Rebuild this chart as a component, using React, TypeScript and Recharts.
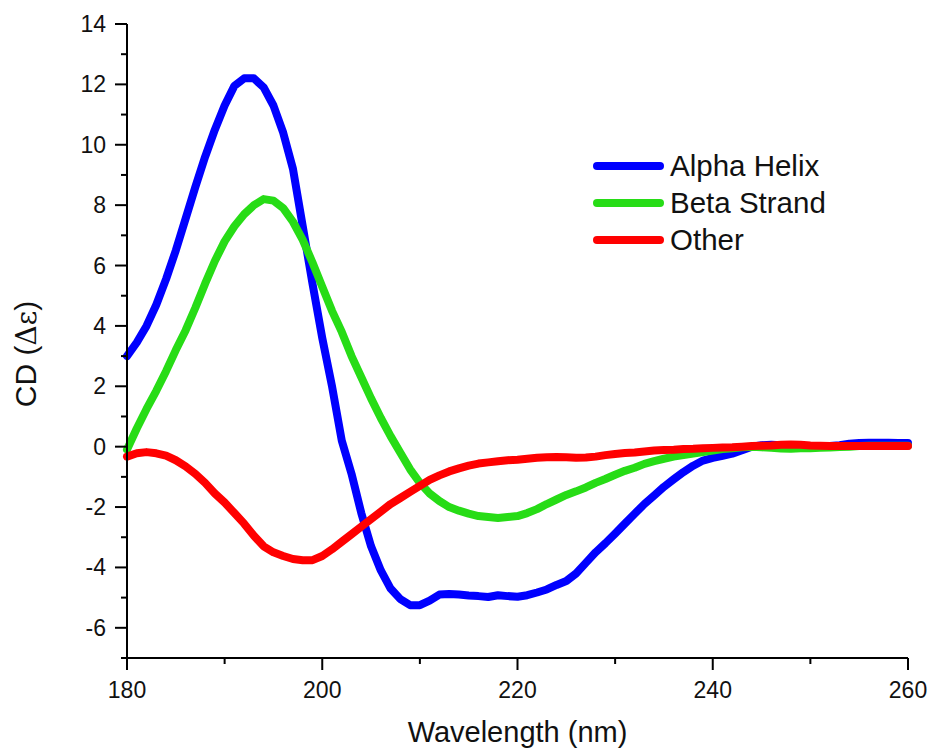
import React from "react";
import { LineChart, Line, XAxis, YAxis, Legend } from "recharts";

const wavelengths = [
  180, 181, 182, 183, 184, 185, 186, 187, 188, 189,
  190, 191, 192, 193, 194, 195, 196, 197, 198, 199,
  200, 201, 202, 203, 204, 205, 206, 207, 208, 209,
  210, 211, 212, 213, 214, 215, 216, 217, 218, 219,
  220, 221, 222, 223, 224, 225, 226, 227, 228, 229,
  230, 231, 232, 233, 234, 235, 236, 237, 238, 239,
  240, 241, 242, 243, 244, 245, 246, 247, 248, 249,
  250, 251, 252, 253, 254, 255, 256, 257, 258, 259,
  260,
];

const alphaHelix = [
  3.0, 3.45, 4.0, 4.7, 5.55, 6.5, 7.55, 8.6, 9.6, 10.5,
  11.3, 11.95, 12.2, 12.2, 11.9, 11.3, 10.4, 9.2, 7.3, 5.4,
  3.6, 2.0, 0.2, -0.9, -2.2, -3.3, -4.1, -4.7, -5.05, -5.25,
  -5.25, -5.1, -4.9, -4.88, -4.9, -4.93, -4.95, -4.98, -4.92, -4.95,
  -4.97, -4.92, -4.83, -4.73, -4.58, -4.45, -4.2, -3.85, -3.5, -3.2,
  -2.88, -2.55, -2.22, -1.9, -1.62, -1.33, -1.08, -0.84, -0.63, -0.46,
  -0.37, -0.3, -0.23, -0.12, 0.0, 0.05, 0.06, 0.05, 0.05, 0.03,
  0.02, 0.02, 0.02, 0.05, 0.1, 0.12, 0.13, 0.13, 0.13, 0.12,
  0.12,
];

const betaStrand = [
  -0.1, 0.6, 1.25, 1.85, 2.5, 3.2, 3.85, 4.6, 5.4, 6.15,
  6.8, 7.3, 7.7, 8.0, 8.2, 8.15, 7.9, 7.45, 6.85, 6.1,
  5.3, 4.5, 3.8, 3.0, 2.3, 1.6, 0.95, 0.35, -0.2, -0.75,
  -1.2, -1.55, -1.8, -2.0, -2.12, -2.22, -2.3, -2.33, -2.36, -2.33,
  -2.3, -2.2, -2.07, -1.9, -1.75, -1.6, -1.48, -1.35, -1.2, -1.07,
  -0.93, -0.8, -0.7, -0.57, -0.48, -0.4, -0.33, -0.28, -0.23, -0.18,
  -0.13, -0.08, -0.05, -0.02, 0.0, -0.02, -0.04, -0.06, -0.07, -0.05,
  -0.05, -0.04, -0.03, -0.01, 0.0, 0.02, 0.03, 0.03, 0.03, 0.03,
  0.03,
];

const other = [
  -0.33, -0.22, -0.18, -0.22, -0.3, -0.45, -0.65, -0.9, -1.2, -1.55,
  -1.85, -2.2, -2.55, -2.95, -3.3, -3.5, -3.62, -3.72, -3.76, -3.76,
  -3.62, -3.4, -3.15, -2.9, -2.65, -2.4, -2.15, -1.9, -1.7, -1.5,
  -1.3, -1.1, -0.95, -0.82, -0.72, -0.63, -0.56, -0.52, -0.48, -0.45,
  -0.43, -0.4, -0.37, -0.35, -0.34, -0.35, -0.37, -0.36, -0.33, -0.28,
  -0.24, -0.21, -0.19, -0.16, -0.13, -0.11, -0.1, -0.08, -0.07, -0.05,
  -0.04, -0.03, -0.02, 0.0, 0.02, 0.03, 0.04, 0.06, 0.07, 0.06,
  0.04, 0.03, 0.02, 0.02, 0.02, 0.02, 0.02, 0.02, 0.02, 0.02,
  0.02,
];

const xTicks = [180, 190, 200, 210, 220, 230, 240, 250, 260];
const xMajor = [180, 200, 220, 240, 260];
const yTicks = [-7, -6, -5, -4, -3, -2, -1, 0, 1, 2, 3, 4, 5, 6, 7, 8, 9, 10, 11, 12, 13, 14];
const yMajor = [-6, -4, -2, 0, 2, 4, 6, 8, 10, 12, 14];

const seriesNames = ["Alpha Helix", "Beta Strand", "Other"];
const seriesKeys = ["alpha", "beta", "other"];
const seriesColors = ["#0000FF", "#27DC16", "#FF0000"];

const data = wavelengths.map((w, i) => ({
  w,
  alpha: alphaHelix[i],
  beta: betaStrand[i],
  other: other[i],
}));

const FONT = "'Liberation Sans', Arial, Helvetica, sans-serif";

const XTick = (props: any) => {
  const { x, y, payload } = props;
  const major = xMajor.includes(payload.value);
  return (
    <g>
      <line x1={x} x2={x} y1={y} y2={y + (major ? 12 : 6)} stroke="#000" strokeWidth={2} />
      {major && (
        <text x={x} y={y + 40} textAnchor="middle" fontSize={23} fontFamily={FONT} fill="#111">
          {payload.value}
        </text>
      )}
    </g>
  );
};

const YTick = (props: any) => {
  const { x, y, payload } = props;
  const major = yMajor.includes(payload.value);
  return (
    <g>
      <line x1={x - (major ? 12 : 6)} x2={x} y1={y} y2={y} stroke="#000" strokeWidth={2} />
      {major && (
        <text x={x - 21} y={y + 8} textAnchor="end" fontSize={23} fontFamily={FONT} fill="#111">
          {payload.value}
        </text>
      )}
    </g>
  );
};

const LegendContent = () => (
  <svg width={280} height={120} style={{ display: "block", overflow: "visible" }}>
    {seriesNames.map((name, i) => (
      <g key={name}>
        <line
          x1={12}
          x2={75}
          y1={18 + i * 37}
          y2={18 + i * 37}
          stroke={seriesColors[i]}
          strokeWidth={8}
          strokeLinecap="round"
        />
        <text x={85} y={18 + i * 37 + 10} fontSize={29.5} fontFamily={FONT} fill="#111">
          {name}
        </text>
      </g>
    ))}
  </svg>
);

export default function App() {
  return (
    <div style={{ position: "absolute", left: 0, top: 0, width: 931, height: 752, background: "#fff" }}>
      <LineChart
        width={931}
        height={752}
        data={data}
        margin={{ top: 24, right: 23, bottom: 34, left: 47 }}
        style={{ overflow: "visible" }}
      >
        <XAxis
          dataKey="w"
          type="number"
          domain={[180, 260]}
          ticks={xTicks}
          interval={0}
          height={60}
          tickSize={0}
          tickMargin={0}
          tickLine={false}
          axisLine={{ stroke: "#000", strokeWidth: 2 }}
          tick={<XTick />}
          label={{
            content: (p: any) => {
              const vb = p.viewBox || {};
              return (
                <text
                  x={vb.x + vb.width / 2}
                  y={vb.y + 84}
                  textAnchor="middle"
                  fontSize={29}
                  fontFamily={FONT}
                  fill="#111"
                >
                  Wavelength (nm)
                </text>
              );
            },
          }}
        />
        <YAxis
          type="number"
          domain={[-7, 14]}
          ticks={yTicks}
          interval={0}
          width={80}
          tickSize={0}
          tickMargin={0}
          tickLine={false}
          axisLine={{ stroke: "#000", strokeWidth: 2 }}
          tick={<YTick />}
          label={{
            content: (p: any) => {
              const vb = p.viewBox || {};
              const cx = 36;
              const cy = 354;
              return (
                <text
                  x={cx}
                  y={cy}
                  transform={`rotate(-90, ${cx}, ${cy})`}
                  textAnchor="middle"
                  fontSize={30}
                  fontFamily={FONT}
                  fill="#111"
                >
                  CD (<tspan fontFamily="'DejaVu Serif', serif" fontSize={28}>Δε</tspan>)
                </text>
              );
            },
          }}
        />
        <Legend
          layout="vertical"
          align="center"
          verticalAlign="middle"
          content={<LegendContent />}
          wrapperStyle={{ position: "absolute", top: 148, left: 585, width: 280, height: 120 }}
        />
        {seriesKeys.map((k, i) => (
          <Line
            key={k}
            dataKey={k}
            name={seriesNames[i]}
            type="linear"
            stroke={seriesColors[i]}
            strokeWidth={8}
            strokeLinejoin="round"
            strokeLinecap="round"
            dot={false}
            activeDot={false}
            isAnimationActive={false}
          />
        ))}
      </LineChart>
    </div>
  );
}
